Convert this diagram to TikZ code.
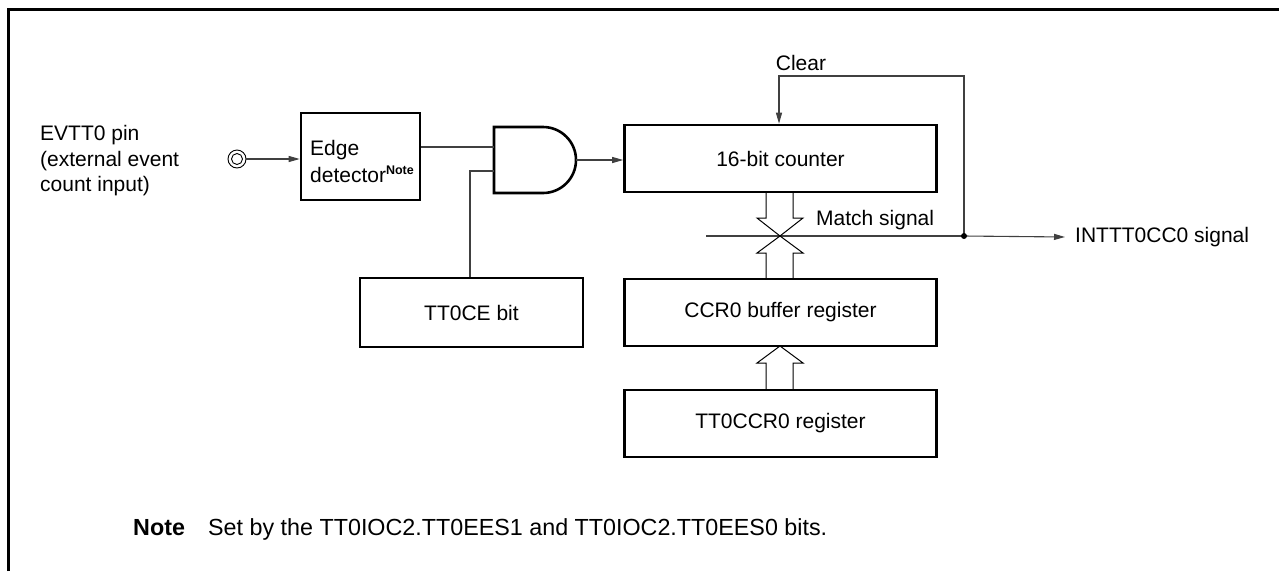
\documentclass[tikz,border=0pt]{standalone}
\usepackage{fontspec}
\setmainfont{Liberation Sans}
\usetikzlibrary{arrows.meta}
\begin{document}
\begin{tikzpicture}[x=1pt,y=-1pt,
  blk/.style={draw=black, line width=2.6pt, inner sep=0pt, font=\fontsize{21}{25.5}\selectfont},
  wire/.style={draw=black!75, line width=1.1pt},
  bus/.style={draw=black, line width=1pt, line join=miter},
  tip/.style={-{Triangle[length=11pt,width=6pt]}},
  lbl/.style={font=\fontsize{21}{25.5}\selectfont, inner sep=0pt},
  notefont/.style={font=\fontsize{23.3}{27}\selectfont, inner sep=0pt},
]
\useasboundingbox (0,0) rectangle (1279,571);
% frame (top and left only)
\draw[line width=3pt] (8.5,571) -- (8.5,9.5) -- (1279,9.5);

% boxes
\node[blk, minimum width=119pt, minimum height=87pt] (edge) at (360.5,156.5) {};
\node[lbl, align=left, anchor=west, font=\fontsize{21}{27}\selectfont] (edgetxt) at (310,161)
  {Edge\\detector\textsuperscript{\textbf{\fontsize{12.5}{13}\selectfont Note}}};
\node[blk, minimum width=312pt, minimum height=67pt] (counter) at (780.5,158.5) {16-bit counter};
\node[blk, minimum width=312pt, minimum height=67pt] (ccr0) at (780.5,312.5) {CCR0 buffer register};
\node[blk, minimum width=312pt, minimum height=67pt] (tt0ccr0) at (780.5,423.5) {TT0CCR0 register};
\node[blk, minimum width=223pt, minimum height=69pt] (tt0ce) at (471.5,312.5) {TT0CE bit};

% pin
\node[circle, draw=black, line width=0.9pt, minimum size=18pt, inner sep=0pt] (pin) at (237,159) {};
\node[circle, draw=black, line width=0.9pt, minimum size=11pt, inner sep=0pt] (pinin) at (237,159) {};
\node[lbl, align=left, anchor=west] (evt) at (40,161) {EVTT0 pin\\(external event\\count input)};
\draw[wire,tip] (pin.east) -- (pin.east -| edge.west);

% AND gate
\draw[line width=2.6pt, line join=miter] (494,127) -- (543,127) arc[start angle=90, end angle=-90, radius=33pt] -- (494,193) -- cycle;
\coordinate (g1) at (494,147);
\coordinate (g2) at (494,171);
\coordinate (gout) at (576,160);
\coordinate (bend) at (470,171);
\draw[wire] (edge.east |- g1) -- (g1);
\draw[wire] (g2) -- (bend) -- (bend |- tt0ce.north);
\draw[wire,tip] (gout) -- (gout -| counter.west);

% match signal and clear
\coordinate (jn) at (964,236);
\coordinate (ctop) at (964,76);
\coordinate (cl) at (779,76);
\coordinate (mstart) at (706,236);
\node[lbl, anchor=west] (int) at (1075,237) {INTTT0CC0 signal};
\draw[wire] (mstart) -- (jn);
\draw[wire,tip] (jn) -- ([xshift=-10pt]int.west);
\draw[wire,tip] (jn) -- (ctop) -- (cl) -- (cl |- counter.north);
\fill (jn) circle[radius=3pt];
\node[lbl] (clear) at (801,63) {Clear};
\node[lbl, anchor=west] (match) at (816,220) {Match signal};

% hollow bus arrows
\draw[bus] (766,192) -- (766,218) -- (757,218) -- (780,236) -- (803,218) -- (793,218) -- (793,192);
\draw[bus] (766,279) -- (766,253) -- (757,253) -- (780,236) -- (803,253) -- (793,253) -- (793,279);
\draw[bus] (766,390) -- (766,363) -- (757,363) -- (780,346) -- (803,363) -- (793,363) -- (793,390);

% note
\node[notefont, anchor=base west] (notehd) at (133,535) {\textbf{Note}};
\node[notefont, anchor=base west] (notetxt) at (208,535) {Set by the TT0IOC2.TT0EES1 and TT0IOC2.TT0EES0 bits.};
\end{tikzpicture}
\end{document}
